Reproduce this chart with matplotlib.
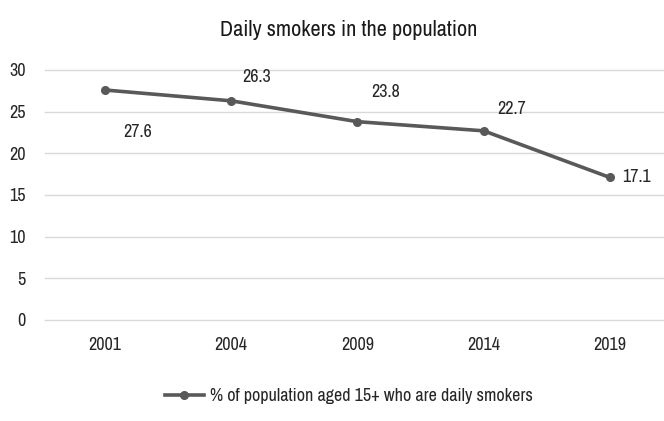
import matplotlib.pyplot as plt
from matplotlib import font_manager

years = ['2001', '2004', '2009', '2014', '2019']
smokers = [27.6, 26.3, 23.8, 22.7, 17.1]
# label offsets in points (dx, dy) for each data point
label_offsets = [(13, -30), (8, 17), (10, 21), (10, 16), (9, 0)]

names = sorted({f.name for f in font_manager.fontManager.ttflist})
narrow = [n for n in names if 'Narrow' in n or 'Condensed' in n]
fam = narrow[0] if narrow else 'Liberation Sans'
plt.rcParams['font.family'] = fam

fig = plt.figure(figsize=(6.64, 4.21), dpi=100)
ax = fig.add_axes([45 / 664, 1 - 320 / 421, 619 / 664, 250 / 421])

x = list(range(len(years)))
line_color = '#595959'
ax.plot(x, smokers, color=line_color, lw=2.6, marker='o', ms=5.5,
        label='% of population aged 15+ who are daily smokers', clip_on=False)

for xi, v, (dx, dy) in zip(x, smokers, label_offsets):
    ax.annotate(f'{v:.1f}', (xi, v), xytext=(dx, dy), textcoords='offset points',
                ha='left', va='center', fontsize=13, color='#262626')

ax.set_xlim(-0.475, 4.428)
ax.set_ylim(0, 30)
ax.set_yticks(range(0, 31, 5))
ax.set_xticks(x)
ax.set_xticklabels(years)
ax.grid(axis='y', color='#d9d9d9', lw=1, clip_on=False)
for gl in ax.get_ygridlines():
    gl.set_clip_on(False)
ax.set_axisbelow(True)
for s in ax.spines.values():
    s.set_visible(False)
ax.tick_params(length=0, labelsize=13, labelcolor='#262626')
ax.tick_params(axis='y', pad=14)
ax.tick_params(axis='x', pad=12)

fig.text(0.525, 1 - 30 / 421, 'Daily smokers in the population', ha='center', va='center',
         fontsize=16, color='#1a1a1a')
fig.legend(loc='center', bbox_to_anchor=(0.525, 1 - 396 / 421), frameon=False,
           fontsize=13, handlelength=2.2, handletextpad=0.3, labelcolor='#262626')

fig.savefig('out.png', dpi=100)
